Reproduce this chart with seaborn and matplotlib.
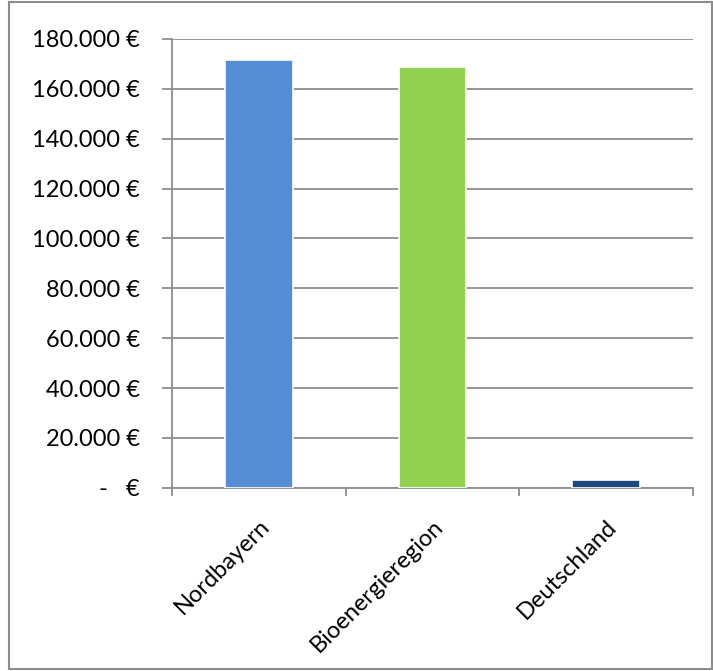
import pandas as pd
import matplotlib.pyplot as plt
import matplotlib.patches as patches
from matplotlib.ticker import FuncFormatter, MultipleLocator
import seaborn as sns

# Data
regions = ["Nordbayern", "Bioenergieregion", "Deutschland"]
values = [171600, 168900, 3300]
colors = ["#558ED5", "#92D050", "#1F497D"]

df = pd.DataFrame({"Region": regions, "Wert": values})

sns.set_style("white")
plt.rcParams["font.family"] = ["Lato", "DejaVu Sans"]

fig = plt.figure(figsize=(7.13, 6.71), dpi=100)
ax = fig.add_axes([0.241, 0.273, 0.731, 0.669])

sns.barplot(data=df, x="Region", y="Wert", hue="Region", palette=colors,
            saturation=1, width=0.39, legend=False, ax=ax, zorder=3,
            edgecolor="white", linewidth=1.2)

ax.set_ylim(0, 180000)
ax.set_xlim(-0.5, 2.5)
ax.yaxis.set_major_locator(MultipleLocator(20000))


def euro(v, pos):
    if v == 0:
        return "-   €"
    return f"{v:,.0f} €".replace(",", ".")


ax.yaxis.set_major_formatter(FuncFormatter(euro))
ax.grid(axis="y", color="#8c8c8c", linewidth=1.3, zorder=0)
ax.set_xlabel("")
ax.set_ylabel("")

for s in ["top", "right"]:
    ax.spines[s].set_visible(False)
for s in ["left", "bottom"]:
    ax.spines[s].set_color("#8c8c8c")
    ax.spines[s].set_linewidth(1.3)

ax.tick_params(axis="y", labelsize=17, length=7, width=1.3, color="#8c8c8c",
               labelcolor="black", left=True, pad=16)
ax.set_xticks([0, 1, 2])
ax.set_xticklabels(regions, rotation=45, ha="right", rotation_mode="anchor",
                   fontsize=17, color="black")
ax.tick_params(axis="x", length=0, pad=20)
# category boundary ticks
ax.set_xticks([-0.5, 0.5, 1.5, 2.5], minor=True)
ax.tick_params(axis="x", which="minor", length=6, width=1.3, color="#8c8c8c",
               bottom=True)

# outer chart border
fig.patches.append(patches.Rectangle((0.013, 0.003), 0.986, 0.994,
                                     transform=fig.transFigure, fill=False,
                                     edgecolor="#8c8c8c", linewidth=1.5))

fig.savefig("out.png", dpi=100)
